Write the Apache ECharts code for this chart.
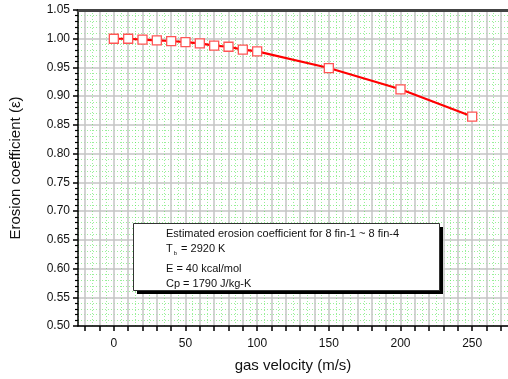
<!DOCTYPE html>
<html><head><meta charset="utf-8">
<script src="https://cdn.jsdelivr.net/npm/echarts@6/dist/echarts.min.js"></script>
<style>html,body{margin:0;padding:0;background:#fff}#c{width:508px;height:379px}</style>
</head><body><div id="c"></div>
<script>
const velocity = [0, 10, 20, 30, 40, 50, 60, 70, 80, 90, 100, 150, 200, 250];
const erosion = [1.000, 1.000, 0.9985, 0.997, 0.996, 0.994, 0.992, 0.988, 0.986, 0.981, 0.978, 0.949, 0.912, 0.8645];
const xTickLabels = [0, 50, 100, 150, 200, 250];
const xMinorTicks = [-20, -10, 0, 10, 20, 30, 40, 50, 60, 70, 80, 90, 100, 110, 120, 130, 140, 150, 160, 170, 180, 190, 200, 210, 220, 230, 240, 250, 260, 270];
const noteLines = ['Estimated erosion coefficient for 8 fin-1 ~ 8 fin-4', '{t|T}{s|b}{t| = 2920 K}', 'E = 40 kcal/mol', 'Cp = 1790 J/kg-K'];

const chart = echarts.init(document.getElementById('c'), null, {renderer: 'canvas'});
const font = 'Liberation Sans, Arial, sans-serif';
chart.setOption({
  animation: false,
  grid: {left: 77, right: 0, top: 10, bottom: 53, containLabel: false},
  xAxis: [{
    type: 'value', min: -25, max: 275, position: 'bottom',
    name: 'gas velocity (m/s)', nameLocation: 'middle', nameGap: 32,
    nameTextStyle: {fontFamily: font, fontSize: 15, color: '#111'},
    axisLine: {show: true, onZero: false, lineStyle: {color: '#000', width: 1.5}},
    axisTick: {show: true, customValues: xMinorTicks, length: 5, lineStyle: {color: '#000', width: 1.5}},
    axisLabel: {customValues: xTickLabels, fontFamily: font, fontSize: 12, color: '#111', margin: 12},
    splitLine: {show: true, customValues: xTickLabels, lineStyle: {color: '#c4c4c4', width: 1.5}}
  }, {
    type: 'value', min: -25, max: 275, position: 'top', interval: 10,
    axisLine: {show: true, onZero: false, lineStyle: {color: '#444', width: 3}},
    axisTick: {show: false}, axisLabel: {show: false},
    splitLine: {show: true, lineStyle: {color: 'rgba(70,225,70,0.55)', type: [1, 2], width: 1}}
  }],
  yAxis: {
    type: 'value', min: 0.5, max: 1.05, interval: 0.05,
    name: 'Erosion coefficient (ε)', nameLocation: 'middle', nameGap: 55,
    nameTextStyle: {fontFamily: font, fontSize: 15, color: '#111'},
    axisLine: {show: true, onZero: false, lineStyle: {color: '#000', width: 1.5}},
    axisTick: {show: true, length: 5, lineStyle: {color: '#000', width: 1.5}},
    minorTick: {show: true, splitNumber: 5, length: 3, lineStyle: {color: '#000', width: 1.2}},
    axisLabel: {fontFamily: font, fontSize: 12, color: '#111', margin: 8, formatter: v => v.toFixed(2)},
    splitLine: {show: true, lineStyle: {color: '#c4c4c4', width: 1.5}},
    minorSplitLine: {show: true, lineStyle: {color: 'rgba(70,225,70,0.55)', type: [1, 2], width: 1}}
  },
  series: [{
    type: 'line', data: velocity.map((v, i) => [v, erosion[i]]),
    symbol: 'rect', symbolSize: 9, showSymbol: true,
    lineStyle: {color: '#ff0000', width: 2.2},
    itemStyle: {color: '#fff', borderColor: '#ff5555', borderWidth: 1.3},
    z: 5
  }],
  graphic: [
    {type: 'rect', left: 137, top: 227, shape: {width: 306, height: 67}, style: {fill: '#000'}, z: 10},
    {type: 'rect', left: 133, top: 223, shape: {width: 306, height: 67}, style: {fill: '#fff', stroke: '#333', lineWidth: 1}, z: 11},
    {type: 'text', left: 166, top: 228, z: 12, style: {text: noteLines[0], font: '11px ' + font, fill: '#111'}},
    {type: 'text', left: 166, top: 243, z: 12, style: {text: noteLines[1], fill: '#111', rich: {t: {font: '11px ' + font, fill: '#111'}, s: {font: '6px ' + font, fill: '#111', padding: [10, 1, 0, 1]}}}},
    {type: 'text', left: 166, top: 263, z: 12, style: {text: noteLines[2], font: '11px ' + font, fill: '#111'}},
    {type: 'text', left: 166, top: 278, z: 12, style: {text: noteLines[3], font: '11px ' + font, fill: '#111'}}
  ]
});
</script></body></html>
